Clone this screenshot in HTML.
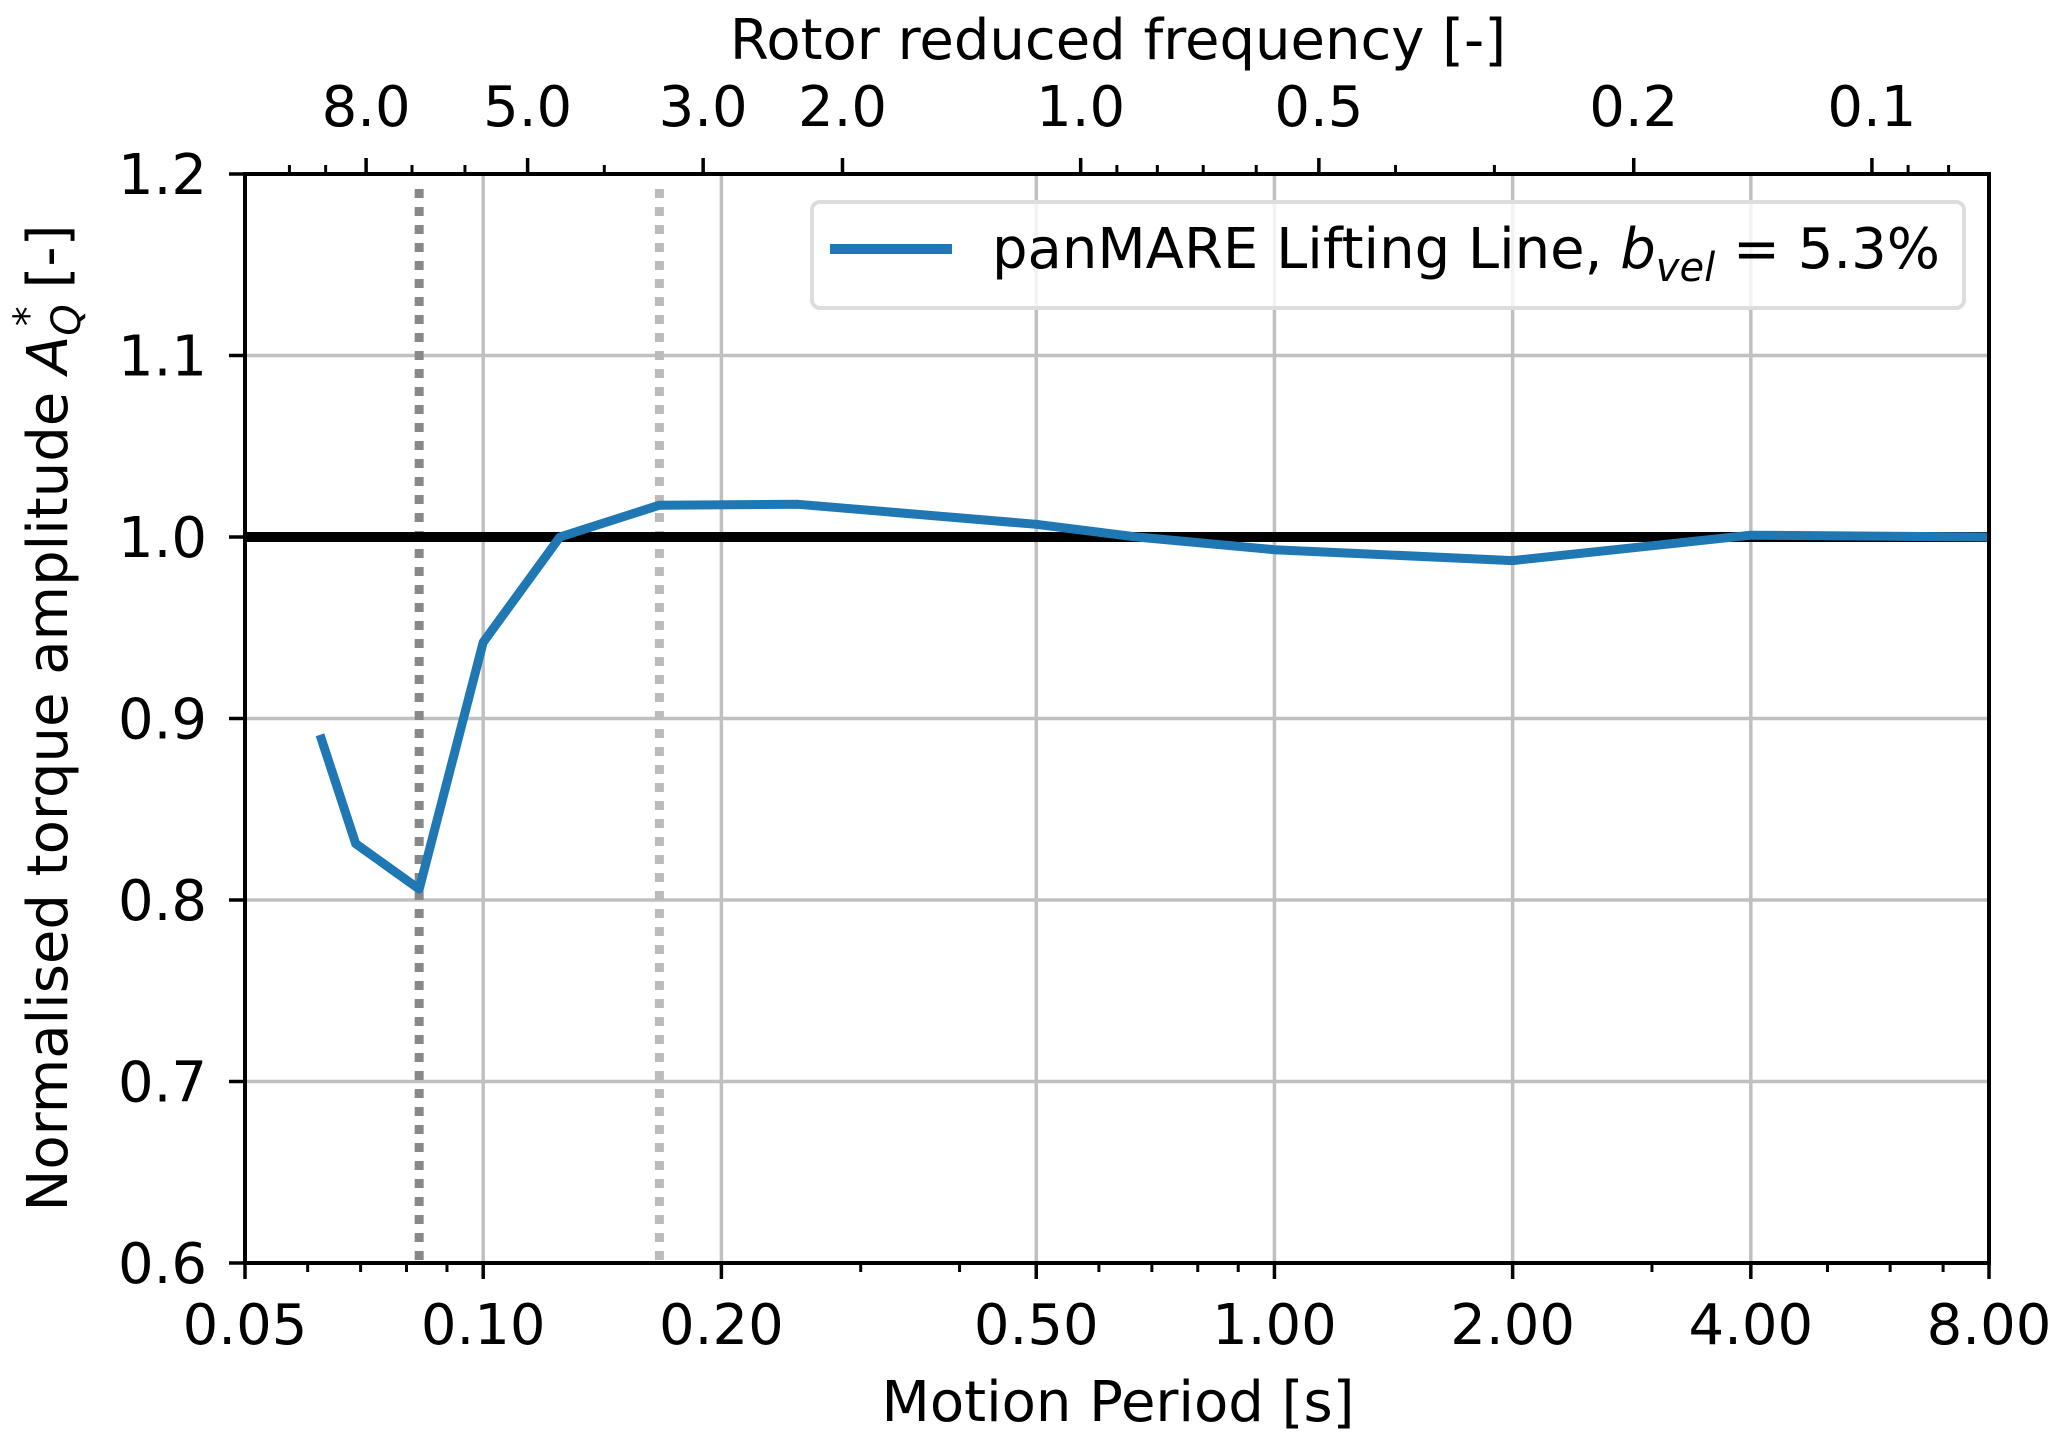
<!DOCTYPE html>
<html><head><meta charset="utf-8"><style>
html,body{margin:0;padding:0;background:#fff;}
svg{display:block;font-family:"DejaVu Sans","Liberation Sans",sans-serif;}
</style></head><body>
<svg id="chart" width="2067" height="1446" viewBox="0 0 2067 1446" xmlns="http://www.w3.org/2000/svg">
<rect width="2067" height="1446" fill="#fff"/>
<g id="grid"></g>
<g id="refs"></g>
<g id="series"></g>
<g id="axes"></g>
<g id="legend">
  <rect x="812" y="202" width="1152" height="106" rx="8" fill="#fff" fill-opacity="0.8" stroke="#ddd" stroke-width="4"/>
  <line x1="830" y1="249" x2="952" y2="249" stroke="#1f77b4" stroke-width="10"/>
  <text x="992" y="268" font-size="56" fill="#000">panMARE Lifting Line, <tspan font-style="italic">b</tspan><tspan font-style="italic" font-size="40" dy="13">vel</tspan><tspan dy="-13"> = 5.3%</tspan></text>
</g>
<text x="1118" y="1421" font-size="56" text-anchor="middle">Motion Period [s]</text>
<text x="1118" y="59" font-size="56" text-anchor="middle">Rotor reduced frequency [-]</text>
<text transform="translate(67,718) rotate(-90)" font-size="56" text-anchor="middle">Normalised torque amplitude <tspan font-style="italic">A</tspan><tspan font-style="italic" font-size="40" dy="13">Q</tspan><tspan font-size="40" dx="-22" dy="-38">*</tspan><tspan dy="25"> [-]</tspan></text>
</svg>
<script>
const periods = [0.0622, 0.069, 0.083, 0.10, 0.125, 0.167, 0.25, 0.5, 0.67, 1.0, 2.0, 4.0, 8.0];
const amplitudes = [0.891, 0.831, 0.806, 0.942, 1.0, 1.0175, 1.018, 1.007, 1.0, 0.993, 0.987, 1.001, 1.0];
const xTicks = [0.05, 0.1, 0.2, 0.5, 1, 2, 4, 8];
const xTickLabels = ["0.05", "0.10", "0.20", "0.50", "1.00", "2.00", "4.00", "8.00"];
const yTicks = [0.6, 0.7, 0.8, 0.9, 1.0, 1.1, 1.2];
const topTicks = [8, 5, 3, 2, 1, 0.5, 0.2, 0.1];
const topTickLabels = ["8.0", "5.0", "3.0", "2.0", "1.0", "0.5", "0.2", "0.1"];
const refPeriods = [0.083, 0.167];
const freqConst = 0.569;

const L=245,R=1989,T=174,B=1263, xMin=0.05,xMax=8,yMin=0.6,yMax=1.2;
const NS="http://www.w3.org/2000/svg";
function X(v){return L+(Math.log(v)-Math.log(xMin))/(Math.log(xMax)-Math.log(xMin))*(R-L);}
function Y(v){return B-(v-yMin)/(yMax-yMin)*(B-T);}
function el(tag,attrs,parent,txt){const e=document.createElementNS(NS,tag);for(const k in attrs)e.setAttribute(k,attrs[k]);if(txt!==undefined)e.textContent=txt;parent.appendChild(e);return e;}
const grid=document.getElementById('grid'),axes=document.getElementById('axes'),refs=document.getElementById('refs'),series=document.getElementById('series');

xTicks.forEach((t,i)=>{
  const x=X(t);
  if(i>0&&i<xTicks.length-1){const g=el('line',{x1:x,x2:x,y1:T,y2:B,stroke:'#c0c0c0','stroke-width':3.5},grid);
  
  }
  el('line',{x1:x,x2:x,y1:B,y2:B+16,stroke:'#000','stroke-width':3.5},axes);
  const lb=el('text',{x:x,y:1344,'font-size':56,'text-anchor':'middle'},axes,xTickLabels[i]);
  
  
});
for(let d=0.01;d<=10;d*=10){for(let m=2;m<=9;m++){const v=m*d;if(v>xMin&&v<xMax&&!xTicks.some(t=>Math.abs(t-v)<1e-9)){const x=X(v);el('line',{x1:x,x2:x,y1:B,y2:B+9,stroke:'#000','stroke-width':3},axes);}}}
yTicks.forEach(t=>{
  const y=Y(t);
  if(t>yMin&&t<yMax){const g=el('line',{x1:L,x2:R,y1:y,y2:y,stroke:'#c0c0c0','stroke-width':3.5},grid);
  
  }
  el('line',{x1:L-16,x2:L,y1:y,y2:y,stroke:'#000','stroke-width':3.5},axes);
  const lb=el('text',{x:207,y:y+20,'font-size':56,'text-anchor':'end'},axes,t.toFixed(1));
  
  
});
topTicks.forEach((k,i)=>{
  const x=X(freqConst/k);
  el('line',{x1:x,x2:x,y1:T-16,y2:T,stroke:'#000','stroke-width':3.5},axes);
  const lb=el('text',{x:x,y:126,'font-size':56,'text-anchor':'middle'},axes,topTickLabels[i]);
  
  
});
for(let d=0.01;d<=10;d*=10){for(let m=1;m<=9;m++){const k=m*d;const p=freqConst/k;if(p>xMin&&p<xMax&&!topTicks.some(t=>Math.abs(t-k)<1e-9)){const x=X(p);el('line',{x1:x,x2:x,y1:T-9,y2:T,stroke:'#000','stroke-width':3},axes);}}}
const refColors=['#888888','#bbbbbb'];
refPeriods.forEach((p,i)=>{const r=el('line',{x1:X(p),x2:X(p),y1:T+15,y2:B,stroke:refColors[i],'stroke-width':9,'stroke-dasharray':'9 9'},refs);

});
const one=el('line',{x1:L,x2:R,y1:Y(1.0),y2:Y(1.0),stroke:'#000','stroke-width':10},refs);


const pts=periods.map((p,i)=>X(p).toFixed(1)+','+Y(amplitudes[i]).toFixed(1)).join(' ');
const pl=el('polyline',{points:pts,fill:'none',stroke:'#1f77b4','stroke-width':9,'stroke-linejoin':'round'},series);


const fr=el('rect',{x:L,y:T,width:R-L,height:B-T,fill:'none',stroke:'#000','stroke-width':4},axes);


</script>
</body></html>
